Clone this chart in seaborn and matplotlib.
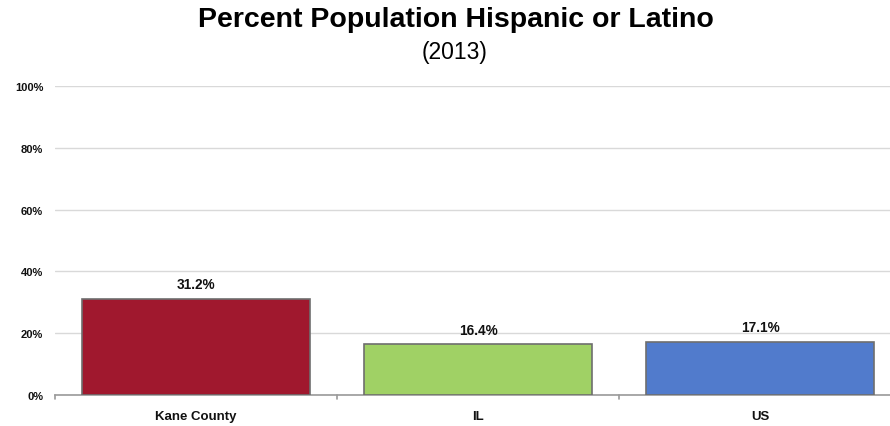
import matplotlib
matplotlib.use("Agg")
import matplotlib.pyplot as plt
import seaborn as sns
import pandas as pd
from matplotlib.ticker import FuncFormatter

# Share of population that is Hispanic or Latino, 2013
regions = ["Kane County", "IL", "US"]
percent_hispanic = [31.2, 16.4, 17.1]
bar_colors = ["#A0182E", "#A0D165", "#517BCC"]
y_ticks = [0, 20, 40, 60, 80, 100]

df = pd.DataFrame({"region": regions, "pct": percent_hispanic})

sns.set_theme(style="white")
plt.rcParams["font.family"] = ["Liberation Sans", "DejaVu Sans"]

fig = plt.figure(figsize=(8.9, 4.27), dpi=100)
ax = fig.add_axes([55 / 890, 1 - 396 / 427, (890 - 55) / 890, (396 - 87) / 427])

sns.barplot(data=df, x="region", y="pct", hue="region", palette=bar_colors,
            order=regions, hue_order=regions, width=0.81, dodge=False,
            saturation=1, edgecolor="#6E6E6E", linewidth=1.2, legend=False,
            ax=ax, zorder=3)

ax.set_ylim(0, 100)
ax.set_xlim(-0.5, 2.46)
ax.set_yticks(y_ticks)
ax.yaxis.set_major_formatter(FuncFormatter(lambda v, _: f"{v:.0f}%"))
ax.grid(axis="y", color="#D9D9D9", linewidth=1.0, zorder=0)
ax.set_axisbelow(True)

for s in ["top", "right", "left"]:
    ax.spines[s].set_visible(False)
ax.spines["bottom"].set_color("#9A9A9A")
ax.spines["bottom"].set_linewidth(1.2)

ax.set_xlabel("")
ax.set_ylabel("")
ax.tick_params(axis="y", length=0, pad=8.5, labelsize=8)
ax.tick_params(axis="x", length=0, pad=11, labelsize=9.5)
for lbl in ax.get_yticklabels() + ax.get_xticklabels():
    lbl.set_fontweight("bold")
    lbl.set_color("#111111")

# category boundary ticks on the baseline
for b in [-0.5, 0.5, 1.5]:
    ax.plot([b, b], [0, -1.3], color="#9A9A9A", linewidth=1.2, clip_on=False, zorder=4)

for i, v in enumerate(percent_hispanic):
    ax.text(i, v + 2.5, f"{v:.1f}%", ha="center", va="bottom",
            fontsize=9.8, fontweight="bold", color="#111111")

fig.text(0.512, 0.953, "Percent Population Hispanic or Latino", ha="center", va="center",
         fontsize=20.5, fontweight="bold", color="#000000")
fig.text(0.511, 0.876, "(2013)", ha="center", va="center", fontsize=16.5, color="#000000")

fig.savefig("out.png", dpi=100)
